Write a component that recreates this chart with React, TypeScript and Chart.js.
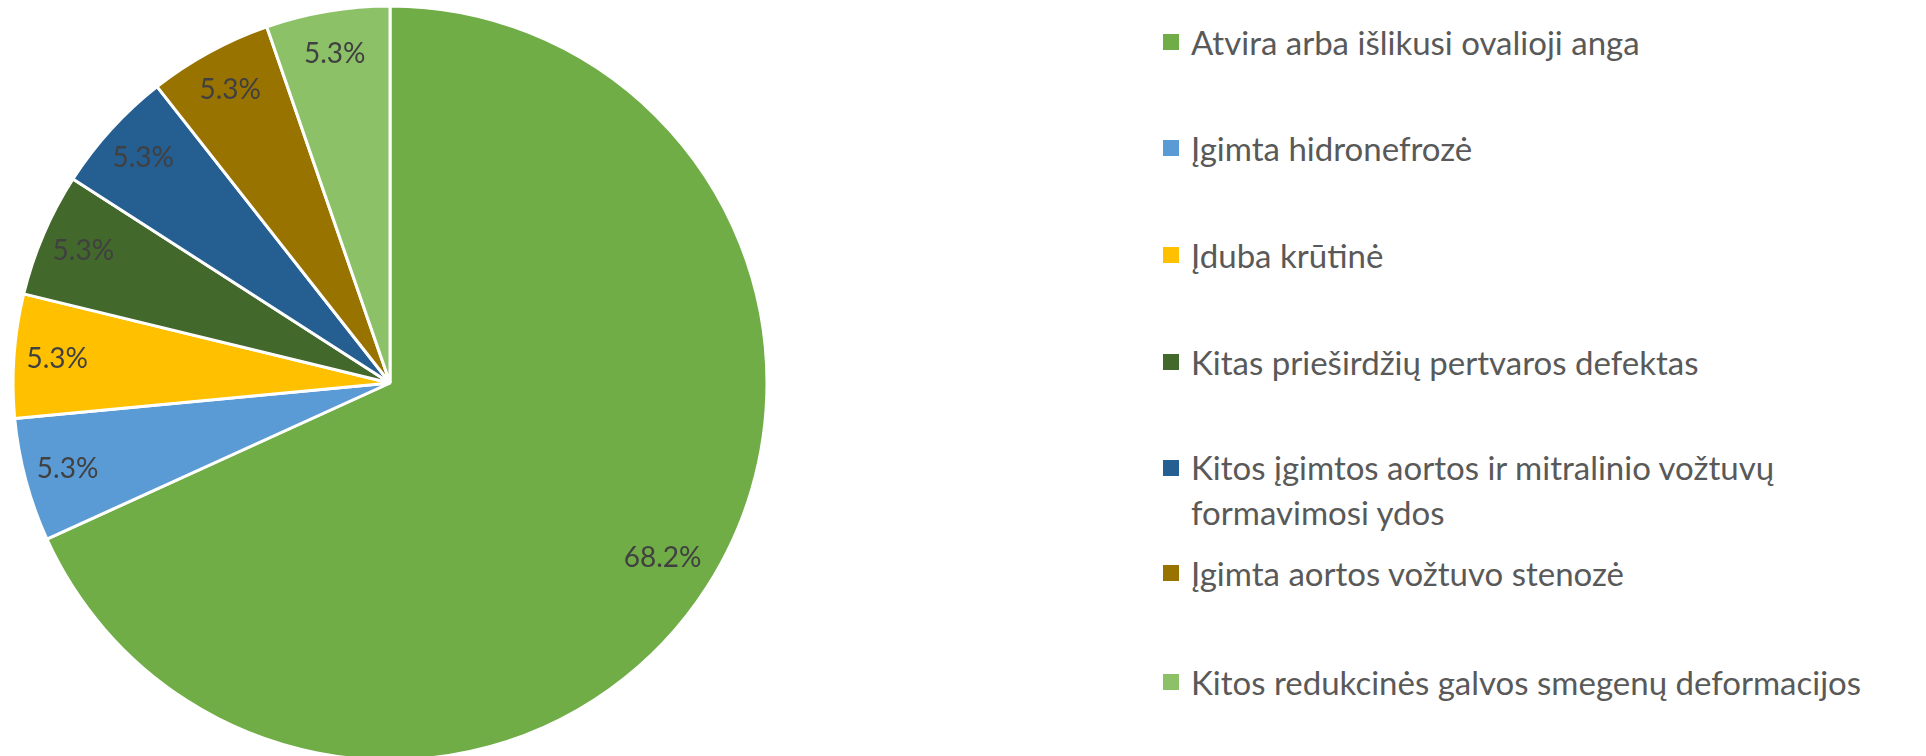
import React, { useEffect, useRef } from "react";
import { Chart, registerables } from "chart.js";

Chart.register(...registerables);

const categories: string[] = [
  "Atvira arba išlikusi ovalioji anga",
  "Įgimta hidronefrozė",
  "Įduba krūtinė",
  "Kitas prieširdžių pertvaros defektas",
  "Kitos įgimtos aortos ir mitralinio vožtuvų\nformavimosi ydos",
  "Įgimta aortos vožtuvo stenozė",
  "Kitos redukcinės galvos smegenų deformacijos",
];
const values: number[] = [68.2, 5.3, 5.3, 5.3, 5.3, 5.3, 5.3];
const colors: string[] = ["#70AD47", "#5B9BD5", "#FFC000", "#43682B", "#255E91", "#997300", "#8CC168"];
const legendCenters: number[] = [42, 148, 255, 362, 490, 573, 682];

const FONT = "Lato, 'Open Sans', sans-serif";

const labelPlugin = {
  id: "sliceLabels",
  afterDatasetsDraw(chart: any) {
    const ctx = chart.ctx;
    const meta = chart.getDatasetMeta(0);
    const data = chart.data.datasets[0].data as number[];
    ctx.save();
    ctx.font = `28px ${FONT}`;
    ctx.fillStyle = "#404040";
    ctx.textAlign = "center";
    ctx.textBaseline = "middle";
    meta.data.forEach((arc: any, i: number) => {
      const p = arc.getProps(["x", "y", "startAngle", "endAngle", "outerRadius"], true);
      const mid = (p.startAngle + p.endAngle) / 2;
      const frac = data[i] > 50 ? 0.86 : 0.885;
      const r = p.outerRadius * frac;
      ctx.fillText(`${data[i].toFixed(1)}%`, p.x + Math.cos(mid) * r, p.y + Math.sin(mid) * r);
    });
    ctx.restore();
  },
};

export default function App() {
  const ref = useRef<HTMLCanvasElement | null>(null);
  useEffect(() => {
    if (!ref.current) return;
    const chart = new Chart(ref.current, {
      type: "pie",
      data: {
        labels: categories,
        datasets: [
          {
            data: values,
            backgroundColor: colors,
            borderColor: "#FFFFFF",
            borderWidth: 3,
          },
        ],
      },
      options: {
        animation: false,
        responsive: false,
        radius: 377,
        layout: { padding: 0 },
        plugins: {
          legend: { display: false },
          tooltip: { enabled: false },
        },
      } as any,
      plugins: [labelPlugin],
    });
    return () => chart.destroy();
  }, []);

  return (
    <div
      style={{
        position: "fixed",
        left: 0,
        top: 0,
        width: 1926,
        height: 756,
        overflow: "hidden",
        background: "#FFFFFF",
      }}
    >
      <canvas
        ref={ref}
        width={780}
        height={766}
        style={{ position: "absolute", left: 0, top: 0, width: 780, height: 766 }}
      />
      {categories.map((c, i) => {
        const lines = c.split("\n");
        const lh = 45;
        const top = legendCenters[i] - (lines.length * lh) / 2;
        return (
          <div
            key={i}
            style={{
              position: "absolute",
              left: 1163,
              top,
              fontFamily: FONT,
              fontSize: 33,
              lineHeight: `${lh}px`,
              color: "#595959",
              whiteSpace: "nowrap",
            }}
          >
            <span
              style={{
                position: "absolute",
                left: 0,
                top: lh / 2 - 8,
                width: 16,
                height: 16,
                background: colors[i],
              }}
            />
            <div style={{ marginLeft: 28 }}>
              {lines.map((l, j) => (
                <div key={j}>{l}</div>
              ))}
            </div>
          </div>
        );
      })}
    </div>
  );
}
